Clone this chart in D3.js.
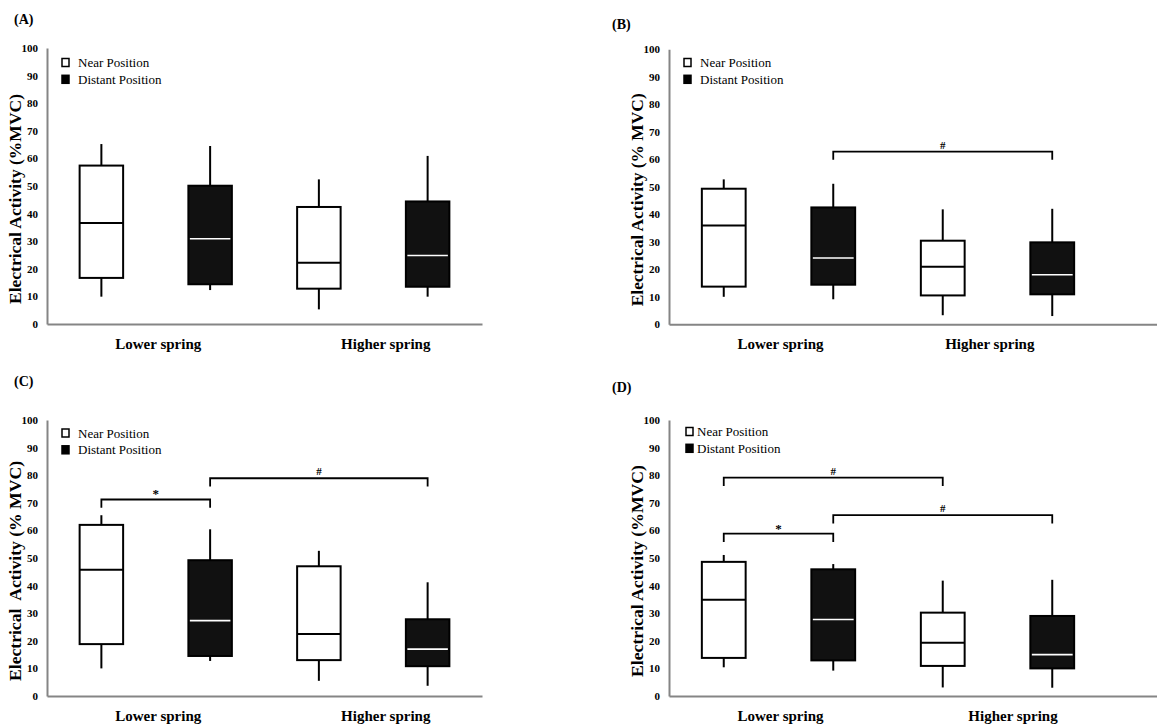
<!DOCTYPE html>
<html>
<head>
<meta charset="utf-8">
<script src="https://cdn.jsdelivr.net/npm/d3@7"></script>
<style>
  html, body { margin: 0; padding: 0; background: #fff; }
  svg { display: block; }
  text { font-family: "Liberation Serif", "Times New Roman", serif; }
</style>
</head>
<body>
<svg id="chart" width="1157" height="725"></svg>
<script>
// ---------------- DATA ----------------
const panelLabels = ["(A)", "(B)", "(C)", "(D)"];
const categories = ["Lower spring", "Higher spring"];
const positions = ["Near Position", "Distant Position"];
const yTicks = [0, 10, 20, 30, 40, 50, 60, 70, 80, 90, 100];
const yTitles = [
  "Electrical Activity (%MVC)",
  "Electrical Activity (% MVC)",
  "Electrical  Activity (% MVC)",
  "Electrical Activity (%MVC)"
];
// Box order per panel: Lower/Near, Lower/Distant, Higher/Near, Higher/Distant
const whiskerMax = [
  [65.2, 64.5, 52.4, 60.9],
  [52.7, 51.1, 41.8, 42.0],
  [65.5, 60.4, 52.6, 41.2],
  [51.1, 47.8, 41.8, 42.1]
];
const q3 = [
  [57.4, 50.1, 42.4, 44.4],
  [49.3, 42.5, 30.4, 29.8],
  [62.0, 49.2, 47.0, 27.8],
  [48.6, 45.9, 30.2, 29.0]
];
const median = [
  [36.6, 30.9, 22.2, 24.8],
  [35.9, 24.1, 20.9, 18.0],
  [45.7, 27.3, 22.5, 17.0],
  [34.9, 27.7, 19.3, 15.0]
];
const q1 = [
  [16.7, 14.4, 12.8, 13.5],
  [13.7, 14.4, 10.5, 10.9],
  [18.8, 14.5, 13.0, 10.8],
  [13.8, 12.9, 10.9, 10.0]
];
const whiskerMin = [
  [9.9, 12.3, 5.3, 9.9],
  [10.0, 9.1, 3.3, 3.0],
  [10.0, 12.7, 5.5, 3.7],
  [10.4, 9.2, 3.1, 3.0]
];
// significance brackets: [fromBox, toBox, level, label]
const brackets = [
  [],
  [[1, 3, 62.8, "#"]],
  [[0, 1, 71.2, "*"], [1, 3, 78.9, "#"]],
  [[0, 2, 79.1, "#"], [0, 1, 58.8, "*"], [1, 3, 65.5, "#"]]
];

// ---------------- LAYOUT ----------------
const layout = [
  { ax: 47,  y0: 324,   y100: 48,   w: 435, axEnd: 482,  lx: 14,  ly: 24,  tx: 21,  tLen: 210, legSq: 62,  legTx: 78,  legY: 67,  catDx: [2.5, 12.5] },
  { ax: 669, y0: 324.3, y100: 49.3, w: 438, axEnd: 1157, lx: 612, ly: 29,  tx: 643, tLen: 213, legSq: 684, legTx: 700, legY: 67,  catDx: [2, -7.7] },
  { ax: 47,  y0: 696,   y100: 420,  w: 435, axEnd: 482,  lx: 14,  ly: 386, tx: 21,  tLen: 220, legSq: 62,  legTx: 78,  legY: 437.5, catDx: [2.5, 12.5] },
  { ax: 669, y0: 696,   y100: 420,  w: 438, axEnd: 1157, lx: 612, ly: 392, tx: 643, tLen: 212, legSq: 686, legTx: 697, legY: 436, catDx: [2, 15.5] }
];

const svg = d3.select("#chart");
svg.append("rect").attr("width", 1157).attr("height", 725).attr("fill", "#fff");

const boxIds = [];
categories.forEach(c => positions.forEach(p => boxIds.push(c + "|" + p)));
const fills = { "Near Position": "#fff", "Distant Position": "#111" };
const medianColor = { "Near Position": "#000", "Distant Position": "#fff" };
const axisColor = "#858585";

panelLabels.forEach((lab, pi) => {
  const L = layout[pi];
  const g = svg.append("g");

  const y = d3.scaleLinear().domain([0, 100]).range([L.y0, L.y100]);
  const x = d3.scaleBand().domain(boxIds).range([L.ax, L.ax + L.w])
    .paddingInner(0.6).paddingOuter(0.3);

  // panel label
  g.append("text").attr("x", L.lx).attr("y", L.ly)
    .attr("font-size", 14).attr("font-weight", "bold").text(lab);

  // y axis
  const yAxis = g.append("g").attr("transform", `translate(${L.ax},0)`)
    .call(d3.axisLeft(y).tickValues(yTicks).tickSize(0).tickPadding(9).tickSizeOuter(0));
  yAxis.select(".domain").attr("stroke", axisColor).attr("stroke-width", 2);
  yAxis.selectAll("text").attr("font-family", "Liberation Serif, serif")
    .attr("font-size", 11).attr("font-weight", "bold").attr("fill", "#000");

  // x axis line
  const xLine = d3.scaleLinear().domain([0, 1]).range([L.ax, L.axEnd]);
  const xAxis = g.append("g").attr("transform", `translate(0,${L.y0})`)
    .call(d3.axisBottom(xLine).tickValues([]).tickSizeOuter(0));
  xAxis.select(".domain").attr("stroke", axisColor).attr("stroke-width", 2);

  // y title
  g.append("text")
    .attr("transform", `translate(${L.tx},${(L.y0 + L.y100) / 2 + 13}) rotate(-90)`)
    .attr("text-anchor", "middle").attr("font-size", 16).attr("font-weight", "bold")
    .attr("textLength", L.tLen).attr("lengthAdjust", "spacingAndGlyphs")
    .style("white-space", "pre")
    .text(yTitles[pi]);

  // category labels
  categories.forEach((c, ci) => {
    const a = x(c + "|" + positions[0]) + x.bandwidth() / 2;
    const b = x(c + "|" + positions[1]) + x.bandwidth() / 2;
    g.append("text").attr("x", (a + b) / 2 + L.catDx[ci]).attr("y", L.y0 + 25)
      .attr("text-anchor", "middle").attr("font-size", 15).attr("font-weight", "bold")
      .text(c);
  });

  // legend
  positions.forEach((p, k) => {
    const by = L.legY + k * 16.8;
    g.append("rect").attr("x", L.legSq).attr("y", by - 8.5).attr("width", 7).attr("height", 8)
      .attr("fill", p === positions[0] ? "#fff" : "#000")
      .attr("stroke", "#000").attr("stroke-width", 1.5);
    g.append("text").attr("x", L.legTx).attr("y", by).attr("font-size", 13).text(p);
  });

  // boxes
  boxIds.forEach((id, bi) => {
    const pos = id.split("|")[1];
    const x0 = x(id), bw = x.bandwidth(), cx = x0 + bw / 2;
    // whiskers
    g.append("line").attr("x1", cx).attr("x2", cx)
      .attr("y1", y(whiskerMax[pi][bi])).attr("y2", y(q3[pi][bi]))
      .attr("stroke", "#000").attr("stroke-width", 2);
    g.append("line").attr("x1", cx).attr("x2", cx)
      .attr("y1", y(q1[pi][bi])).attr("y2", y(whiskerMin[pi][bi]))
      .attr("stroke", "#000").attr("stroke-width", 2);
    // box
    g.append("rect").attr("x", x0).attr("width", bw)
      .attr("y", y(q3[pi][bi])).attr("height", y(q1[pi][bi]) - y(q3[pi][bi]))
      .attr("fill", fills[pos]).attr("stroke", "#000").attr("stroke-width", 2);
    // median
    const inset = pos === positions[1] ? 1.5 : 0;
    g.append("line").attr("x1", x0 + inset).attr("x2", x0 + bw - inset)
      .attr("y1", y(median[pi][bi])).attr("y2", y(median[pi][bi]))
      .attr("stroke", medianColor[pos]).attr("stroke-width", pos === positions[1] ? 1.6 : 2);
  });

  // significance brackets
  brackets[pi].forEach(([fromB, toB, lvl, txt]) => {
    const xa = x(boxIds[fromB]) + x.bandwidth() / 2;
    const xb = x(boxIds[toB]) + x.bandwidth() / 2;
    const yl = y(lvl), yd = y(lvl - 3);
    g.append("path")
      .attr("d", `M${xa},${yd}V${yl}H${xb}V${yd}`)
      .attr("fill", "none").attr("stroke", "#000").attr("stroke-width", 1.8);
    g.append("text").attr("x", (xa + xb) / 2).attr("y", yl - (txt === "*" ? 1 : 3))
      .attr("text-anchor", "middle").attr("font-size", txt === "*" ? 13 : 11)
      .attr("font-weight", "bold").text(txt);
  });
});
</script>
</body>
</html>
